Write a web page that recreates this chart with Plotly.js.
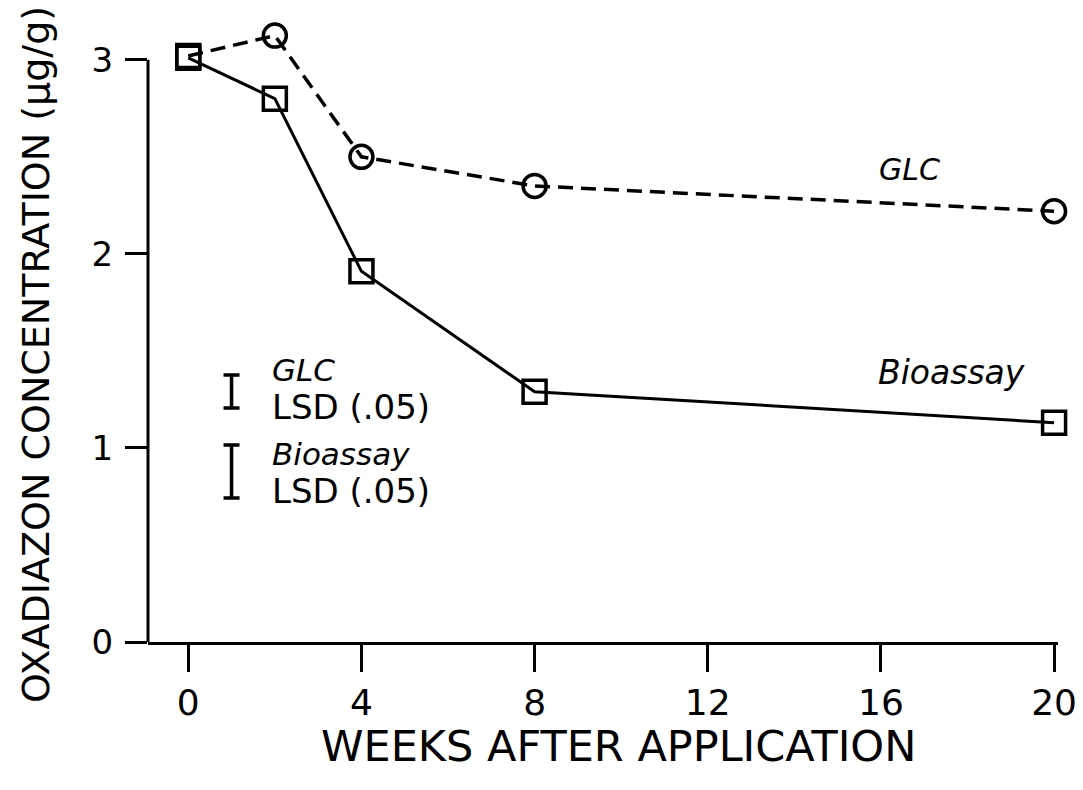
<!DOCTYPE html>
<html>
<head>
<meta charset="utf-8">
<script src="https://cdn.plot.ly/plotly-3.0.1.min.js"></script>
<style>html,body{margin:0;padding:0;background:#fff;}</style>
</head>
<body>
<div id="chart" style="width:1083px;height:790px;"></div>
<script>
const weeks = [0, 2, 4, 8, 20];
const glc = [3.02, 3.125, 2.50, 2.35, 2.22];
const bioassay = [3.01, 2.80, 1.91, 1.29, 1.13];
const xTickVals = [0, 4, 8, 12, 16, 20];
const xTickText = ['0', '4', '8', '12', '16', '20'];
const yTickVals = [0, 1, 2, 3];
const yTickText = ['0', '1', '2', '3'];
const lsdNames = ['GLC', 'Bioassay'];
const lsdValues = [0.17, 0.273];
const lsdCenters = [1.291, 0.879];
const lsdX = 1.0;
const xTitle = 'WEEKS AFTER APPLICATION';
const yTitle = 'OXADIAZON CONCENTRATION (μg/g)';

const FONT = 'DejaVu Sans, Liberation Sans, sans-serif';

const traces = [
  {
    x: weeks, y: glc, mode: 'lines+markers', name: 'GLC', cliponaxis: false,
    line: {color: '#000', width: 3.5, dash: '15px,8px'},
    marker: {symbol: weeks.map((w, i) => i === 0 ? 'square-open' : 'circle-open'), size: 23, color: '#000', line: {width: 3.5, color: '#000'}}
  },
  {
    x: weeks, y: bioassay, mode: 'lines+markers', name: 'Bioassay', cliponaxis: false,
    line: {color: '#000', width: 3},
    marker: {symbol: 'square-open', size: 23, color: '#000', line: {width: 3.5, color: '#000'}}
  },
  {
    x: lsdValues.map(() => lsdX), y: lsdCenters, mode: 'markers', cliponaxis: false,
    marker: {color: 'rgba(0,0,0,0)', size: 1},
    error_y: {type: 'data', array: lsdValues.map(v => v / 2), symmetric: true, color: '#000', thickness: 3.5, width: 8}
  }
];

const ann = [];
ann.push({x: 16.67, y: 2.433, text: '<i>GLC</i>', showarrow: false, xanchor: 'center', yanchor: 'middle', font: {family: FONT, size: 30, color: '#000'}});
ann.push({x: 17.64, y: 1.387, text: '<i>Bioassay</i>', showarrow: false, xanchor: 'center', yanchor: 'middle', font: {family: FONT, size: 33, color: '#000'}});
const lsdTextY = [1.30, 0.868];
lsdNames.forEach((n, i) => {
  ann.push({
    x: 1.89, y: lsdTextY[i],
    text: '<span style="font-size:31px"><i>' + n + '</i></span><br><span style="font-size:34px">LSD (.05)</span>',
    showarrow: false, xanchor: 'left', yanchor: 'middle', align: 'left',
    font: {family: FONT, size: 29, color: '#000'}
  });
});
ann.push({xref: 'paper', yref: 'paper', x: 0.5165, y: -0.1675, text: xTitle, showarrow: false, xanchor: 'center', yanchor: 'middle', font: {family: FONT, size: 43, color: '#000'}});
ann.push({xref: 'paper', yref: 'paper', x: -0.1231, y: 0.4638, text: yTitle, textangle: -90, showarrow: false, xanchor: 'center', yanchor: 'middle', font: {family: FONT, size: 38, color: '#000'}});

const layout = {
  width: 1083, height: 790,
  margin: {l: 148, r: 25, t: 21, b: 148},
  paper_bgcolor: '#fff', plot_bgcolor: '#fff',
  showlegend: false,
  font: {family: FONT, color: '#000'},
  xaxis: {
    range: [-0.93, 20.09], tickvals: xTickVals, ticktext: xTickText,
    showline: true, linecolor: '#000', linewidth: 3,
    ticks: 'outside', ticklen: 27, tickwidth: 3, tickcolor: '#000',
    showgrid: false, zeroline: false,
    tickfont: {family: FONT, size: 36, color: '#000'}
  },
  yaxis: {
    range: [0, 3.2], tickvals: yTickVals, ticktext: yTickText,
    showline: false,
    ticks: 'outside', ticklen: 22, tickwidth: 3, tickcolor: '#000',
    showgrid: false, zeroline: false, ticklabelstandoff: 5,
    tickfont: {family: FONT, size: 34, color: '#000'}
  },
  shapes: [
    {type: 'line', xref: 'paper', yref: 'y', x0: 0, x1: 0, y0: 0, y1: 3, line: {color: '#000', width: 3}, layer: 'above'}
  ],
  annotations: ann
};

Plotly.newPlot('chart', traces, layout, {displayModeBar: false, staticPlot: true});
</script>
</body>
</html>
